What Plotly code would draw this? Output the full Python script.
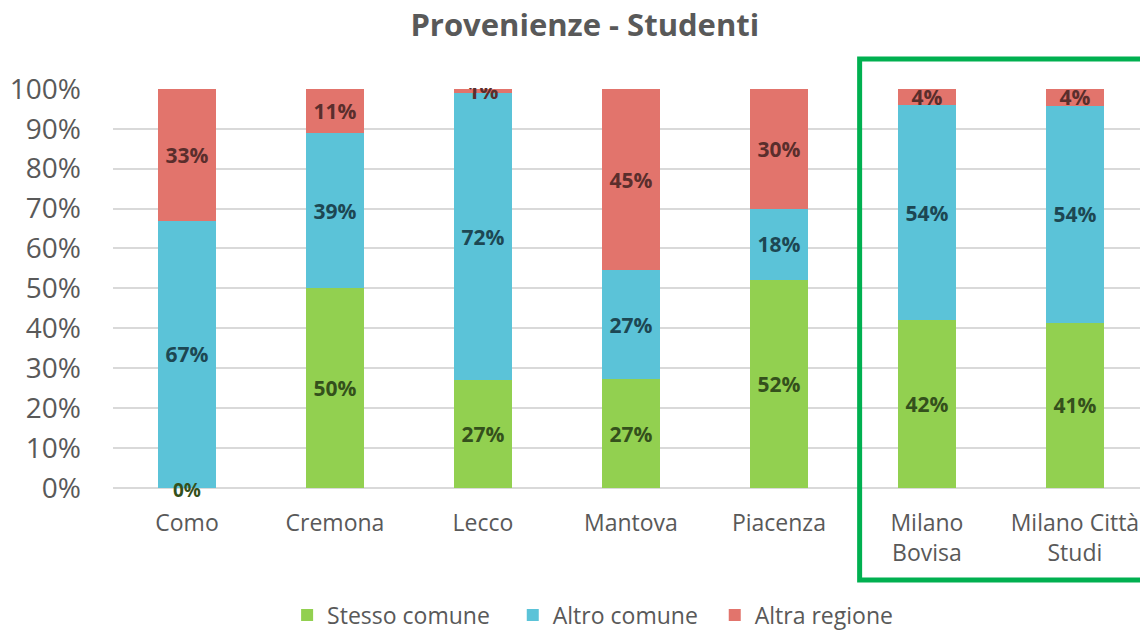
import plotly.graph_objects as go

categories = ["Como", "Cremona", "Lecco", "Mantova", "Piacenza", "Milano<br>Bovisa", "Milano Città<br>Studi"]
stesso_comune = [0, 50, 27, 27.3, 52, 42, 41.4]
altro_comune = [67, 39, 72, 27.2, 18, 54, 54.4]
altra_regione = [33, 11, 1, 45.4, 30, 4, 4.2]
series_names = ["Stesso comune", "Altro comune", "Altra regione"]

colors = ["#92D050", "#5BC3D8", "#E2746C"]
text_colors = ["#34501c", "#1d4753", "#5a2e2c"]
legend_pad = ["\u00a0\u00a0\u00a0", "\u00a0\u00a0", ""]

FONT = "Open Sans"
fig = go.Figure()
for name, vals, color, tcolor, pad in zip(series_names, [stesso_comune, altro_comune, altra_regione],
                                          colors, text_colors, legend_pad):
    fig.add_trace(go.Bar(
        name=name + pad, x=categories, y=vals,
        marker=dict(color=color, line=dict(width=0)),
        width=0.39,
        text=[f"{v:.0f}%" if v > 0 else "" for v in vals],
        textposition="inside", insidetextanchor="middle",
        constraintext="none",
        textfont=dict(family=FONT, size=21, color=tcolor, weight="bold"),
        textangle=0,
        hoverinfo="skip",
    ))
    for c, v in zip(categories, vals):
        if v == 0:
            fig.add_annotation(x=c, y=v, xref="x", yref="y", text=f"{v:.0f}%",
                               showarrow=False, yanchor="middle", yshift=-2,
                               font=dict(family=FONT, size=19, color=tcolor, weight="bold"))

fig.update_layout(
    barmode="stack",
    width=1140, height=630,
    paper_bgcolor="white", plot_bgcolor="white",
    margin=dict(l=113, r=0, t=88, b=142, autoexpand=False),
    title=dict(text="<b>Provenienze - Studenti</b>", x=0.513, xanchor="center", y=0.96, yanchor="middle",
               font=dict(family=FONT, size=31, color="#595959")),
    legend=dict(orientation="h", x=0.467, xanchor="center", y=-0.3175, yanchor="middle",
                font=dict(family=FONT, size=23, color="#595959"), traceorder="normal",
                itemwidth=30),
    shapes=[dict(type="rect", xref="paper", yref="paper", x0=0.727, x1=1.1, y0=-0.23, y1=1.0725,
                 line=dict(color="#00B050", width=5), fillcolor="rgba(0,0,0,0)")],
)
fig.update_xaxes(range=[-0.5, 6.44], showgrid=False, showline=False, ticks="", automargin=False,
                 tickfont=dict(family=FONT, size=23, color="#595959"), ticklabelstandoff=19)
fig.update_yaxes(range=[0, 100.2], dtick=10, ticksuffix="%", showgrid=True, gridcolor="#D9D9D9",
                 gridwidth=1.5, zeroline=True, zerolinecolor="#D9D9D9", zerolinewidth=1.5, automargin=False,
                 tickfont=dict(family=FONT, size=28, color="#595959"), ticklabelstandoff=31)

fig.write_html("out.html", config={"displayModeBar": False},
               post_script="document.body.style.margin='0';")
